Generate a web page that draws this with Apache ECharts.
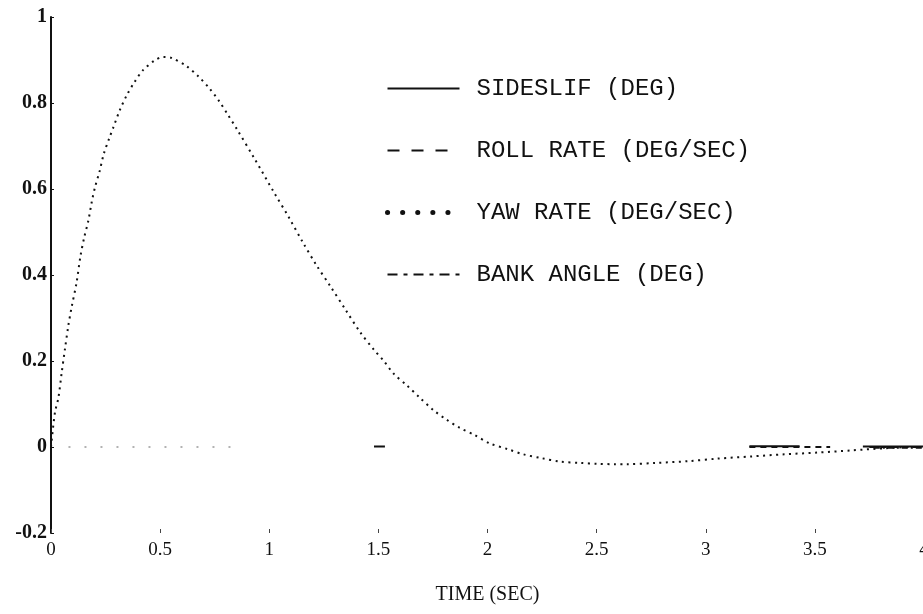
<!DOCTYPE html>
<html>
<head>
<meta charset="utf-8">
<script src="https://cdn.jsdelivr.net/npm/echarts@6/dist/echarts.min.js"></script>
<style>html,body{margin:0;padding:0;background:#fff}#c{width:923px;height:614px}</style>
</head>
<body>
<div id="c"></div>
<script>
// ---- data ----
var xTicks = [0, 0.5, 1, 1.5, 2, 2.5, 3, 3.5, 4];
var yTicks = [-0.2, 0, 0.2, 0.4, 0.6, 0.8, 1];
var seriesNames = ['SIDESLIF (DEG)', 'ROLL RATE (DEG/SEC)', 'YAW RATE (DEG/SEC)', 'BANK ANGLE (DEG)'];
var xAxisTitle = 'TIME (SEC)';

var yawRate = [[0,0],[0.018,0.08],[0.034,0.115],[0.049,0.173],[0.064,0.228],[0.079,0.281],[0.094,0.324],
  [0.117,0.382],[0.135,0.444],[0.152,0.487],[0.171,0.526],[0.186,0.568],[0.201,0.603],[0.223,0.642],
  [0.242,0.682],[0.269,0.721],[0.284,0.741],[0.315,0.783],[0.349,0.82],[0.383,0.849],[0.421,0.876],
  [0.475,0.899],[0.513,0.907],[0.551,0.905],[0.62,0.886],[0.677,0.861],[0.726,0.834],[0.772,0.803],
  [0.809,0.774],[0.852,0.739],[0.932,0.671],[1.023,0.591],[1.091,0.533],[1.155,0.475],[1.216,0.423],
  [1.281,0.373],[1.351,0.318],[1.418,0.266],[1.48,0.226],[1.525,0.2],[1.571,0.17],[1.629,0.144],
  [1.689,0.115],[1.754,0.085],[1.811,0.064],[1.871,0.045],[1.94,0.028],[2.012,0.008],[2.093,-0.005],
  [2.164,-0.017],[2.248,-0.026],[2.332,-0.034],[2.426,-0.037],[2.503,-0.039],[2.586,-0.04],[2.636,-0.04],
  [2.773,-0.037],[2.918,-0.033],[3.055,-0.027],[3.207,-0.022],[3.359,-0.017],[3.512,-0.013],
  [3.665,-0.008],[3.817,-0.003],[3.953,0],[4,0]];
var sideslip = [[1.48,0.001],[1.53,0.001],null,[3.2,0.002],[3.43,0.002],null,[3.72,0.001],[4,0.001]];
var rollRate = [[3.2,0.0],[3.57,0.0],null,[3.75,0.0],[4,0.0]];
var bankAngle = [[3.77,-0.002],[4,-0.002]];
var nearZeroTrace = [[0.08,0],[0.84,0]];

var chart = echarts.init(document.getElementById('c'));
var serif = '"Liberation Serif", "DejaVu Serif", serif';
var mono = '"Liberation Mono", "DejaVu Sans Mono", monospace';
var noSym = {color: 'rgba(0,0,0,0)', borderWidth: 0, opacity: 0};

chart.setOption({
  backgroundColor: '#ffffff',
  animation: false,
  grid: {left: 51, width: 873, top: 17, height: 516, outerBoundsMode: 'none', containLabel: false},
  legend: {
    orient: 'vertical',
    left: 380,
    top: 71,
    itemWidth: 72,
    itemHeight: 14,
    itemGap: 37,
    itemStyle: noSym,
    textStyle: {fontFamily: mono, fontSize: 24, color: '#111', lineHeight: 25, padding: [0, 0, 0, 12]},
    data: [
      {name: seriesNames[0], itemStyle: noSym, lineStyle: {type: 'solid', width: 2, color: '#111'}},
      {name: seriesNames[1], itemStyle: noSym, lineStyle: {type: [12, 12], width: 2, color: '#111'}},
      {name: seriesNames[2], itemStyle: noSym, lineStyle: {type: [0.1, 15], width: 5, cap: 'round', color: '#111'}},
      {name: seriesNames[3], itemStyle: noSym, lineStyle: {type: [10, 6, 4, 6], width: 2, color: '#111'}}
    ]
  },
  xAxis: {
    type: 'value', min: 0, max: 4, interval: 0.5,
    axisLine: {show: false, onZero: false},
    axisTick: {show: true, inside: true, length: 4, lineStyle: {color: '#444'}},
    splitLine: {show: false},
    axisLabel: {fontFamily: serif, fontSize: 19, color: '#111', margin: 8,
      formatter: function (v) { return String(+v.toFixed(1)); }},
    name: xAxisTitle, nameLocation: 'middle', nameGap: 52,
    nameTextStyle: {fontFamily: serif, fontSize: 20, color: '#111'}
  },
  yAxis: {
    type: 'value', min: -0.2, max: 1, interval: 0.2,
    axisLine: {show: true, onZero: false, lineStyle: {color: '#111', width: 2}},
    axisTick: {show: true, inside: true, length: 3, lineStyle: {color: '#111'}},
    splitLine: {show: false},
    axisLabel: {fontFamily: serif, fontSize: 20, fontWeight: 'bold', color: '#111', margin: 4,
      formatter: function (v) { return String(+v.toFixed(1)); }}
  },
  series: [
    {name: seriesNames[0], type: 'line', data: sideslip, symbol: 'none', connectNulls: false,
      lineStyle: {color: '#111', width: 2, type: 'solid'}, itemStyle: {color: '#111'}},
    {name: seriesNames[1], type: 'line', data: rollRate, symbol: 'none', connectNulls: false,
      lineStyle: {color: '#111', width: 2, type: [6, 5]}, itemStyle: {color: '#111'}},
    {name: seriesNames[2], type: 'line', data: yawRate, symbol: 'none', smooth: 0.3,
      lineStyle: {color: '#111', width: 2, type: [2, 4.5]}, itemStyle: {color: '#111'}},
    {name: seriesNames[3], type: 'line', data: bankAngle, symbol: 'none',
      lineStyle: {color: '#111', width: 2, type: [6, 3, 2, 3]}, itemStyle: {color: '#111'}},
    {name: 'trace', type: 'line', data: nearZeroTrace, symbol: 'none', silent: true,
      lineStyle: {color: '#999', width: 1.5, type: [2, 14]}}
  ]
});
</script>
</body>
</html>
